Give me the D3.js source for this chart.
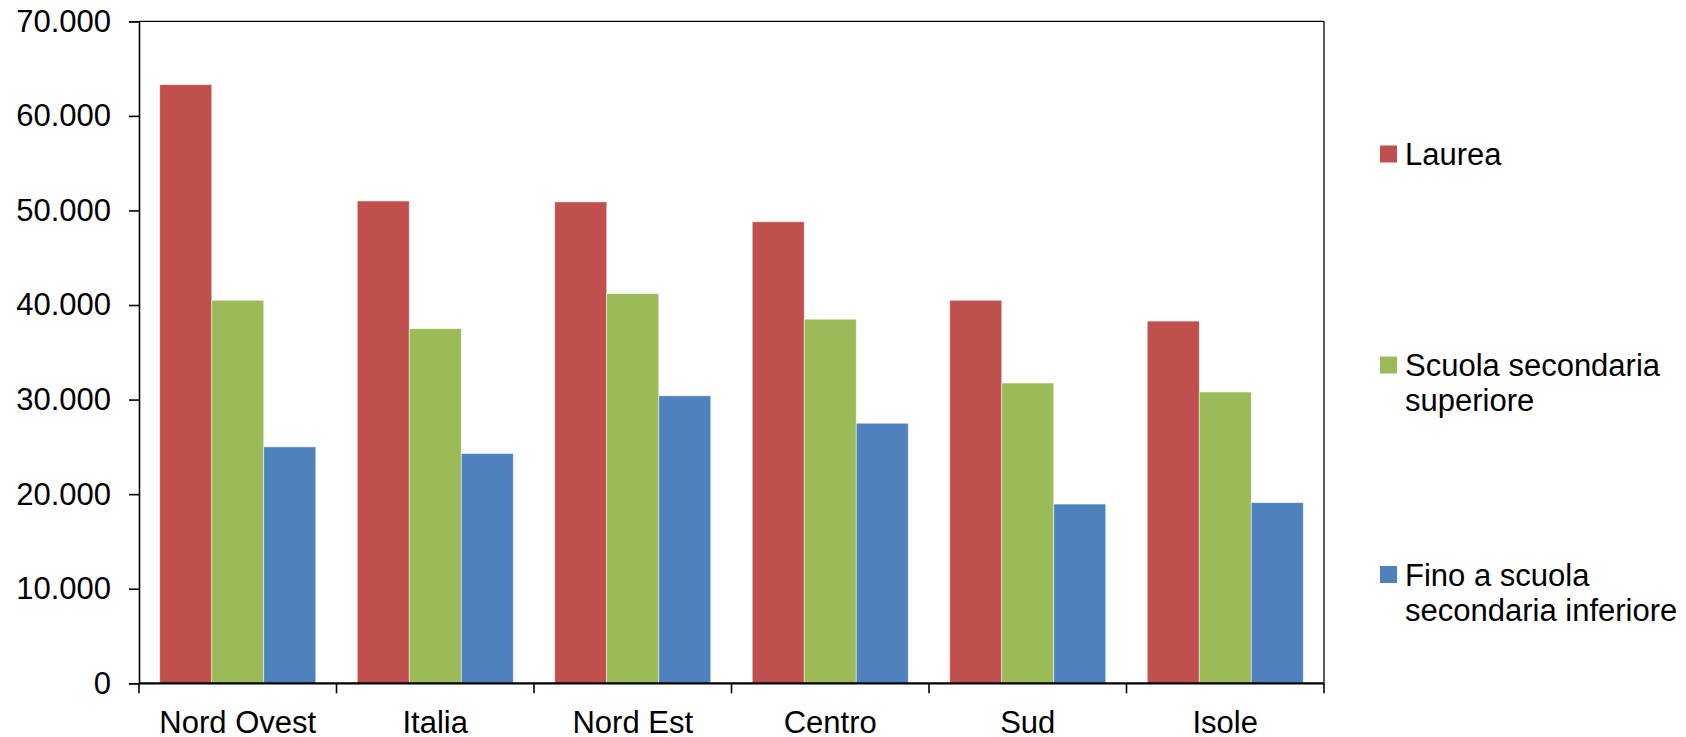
<!DOCTYPE html>
<html><head><meta charset="utf-8">
<script src="https://cdn.jsdelivr.net/npm/d3@7"></script>
<style>
html,body{margin:0;padding:0;background:#fff;}
svg text{font-family:"Liberation Sans",Arial,sans-serif;fill:#000;}
</style></head>
<body>
<svg id="chart" width="1686" height="737"></svg>
<script>
const categories = ["Nord Ovest","Italia","Nord Est","Centro","Sud","Isole"];
const seriesNames = ["Laurea","Scuola secondaria superiore","Fino a scuola secondaria inferiore"];
const legendLines = [["Laurea"],["Scuola secondaria","superiore"],["Fino a scuola","secondaria inferiore"]];
const laurea =     [63300, 51000, 50900, 48800, 40500, 38300];
const superiore =  [40500, 37500, 41200, 38500, 31750, 30800];
const inferiore =  [25000, 24300, 30400, 27500, 18950, 19100];
const yTicks = [0,10000,20000,30000,40000,50000,60000,70000];
const colors = ["#C0504D","#9BBB59","#4F81BD"];

(function(){
const seriesValues = [laurea, superiore, inferiore];
const svg = d3.select("#chart");
const mLeft = 139, mTop = 21.3, W = 1185, H = 662;
const FS = "31px";
const g = svg.append("g").attr("transform",`translate(${mLeft},${mTop})`);

const x0 = d3.scaleBand().domain(categories).range([0,W]).padding(0);
const bw = x0.bandwidth();
const gap = bw*0.21;
const x1 = d3.scaleBand().domain(seriesNames).range([gap/2, bw-gap/2]).padding(0);
const y = d3.scaleLinear().domain([0,70000]).range([H,0]);

const fmt = v => d3.format(",")(v).replace(/,/g,".");

// bars
const groups = g.selectAll("g.grp").data(categories).join("g")
  .attr("transform", c => `translate(${x0(c)},0)`);
groups.selectAll("rect").data((c,i) => seriesNames.map((s,k)=>({s, v: seriesValues[k][i], k})))
  .join("rect")
  .attr("x", d => x1(d.s))
  .attr("width", x1.bandwidth())
  .attr("y", d => y(d.v))
  .attr("height", d => H - y(d.v))
  .attr("fill", d => colors[d.k])
  .attr("stroke", "rgba(255,255,255,0.6)")
  .attr("stroke-width", 0.8);

// frame (top and right)
g.append("line").attr("x1",0).attr("x2",W).attr("y1",0).attr("y2",0).attr("stroke","#000").attr("stroke-width",1.3);
g.append("line").attr("x1",W).attr("x2",W).attr("y1",0).attr("y2",H).attr("stroke","#000").attr("stroke-width",1.3);

// y axis
const yAxis = d3.axisLeft(y).tickValues(yTicks).tickFormat(fmt).tickSize(10).tickPadding(18);
const ya = g.append("g").call(yAxis);
ya.select(".domain").attr("stroke","#000").attr("stroke-width",1.6);
ya.selectAll(".tick line").attr("stroke","#000").attr("stroke-width",1.6);
ya.selectAll("text").style("font-size",FS).attr("font-family","Liberation Sans, Arial, sans-serif");

// x axis (ticks at category boundaries)
const bounds = categories.map(c => x0(c)).concat([W]);
const xa = g.append("g").attr("transform",`translate(0,${H})`);
xa.append("line").attr("x1",0).attr("x2",W).attr("y1",0).attr("y2",0).attr("stroke","#000").attr("stroke-width",2.2);
xa.selectAll("line.tk").data(bounds).join("line").attr("class","tk")
  .attr("x1",d=>d).attr("x2",d=>d).attr("y1",0).attr("y2",10).attr("stroke","#000").attr("stroke-width",1.6);
xa.selectAll("text").data(categories).join("text")
  .attr("x", c => x0(c) + bw/2)
  .attr("y", 49.5)
  .attr("text-anchor","middle")
  .style("font-size",FS)
  .text(c => c);

// legend
const legY = [154, 365, 574.5];
const leg = svg.append("g");
legendLines.forEach((lines,i) => {
  const lg = leg.append("g").attr("transform",`translate(1380,${legY[i]})`);
  lg.append("rect").attr("x",0).attr("y",-8.5).attr("width",17).attr("height",17).attr("fill",colors[i]);
  lines.forEach((t,j) => {
    lg.append("text").attr("x",25).attr("y", 11 + j*35).style("font-size",FS).text(t);
  });
});
})();
</script>
</body></html>
